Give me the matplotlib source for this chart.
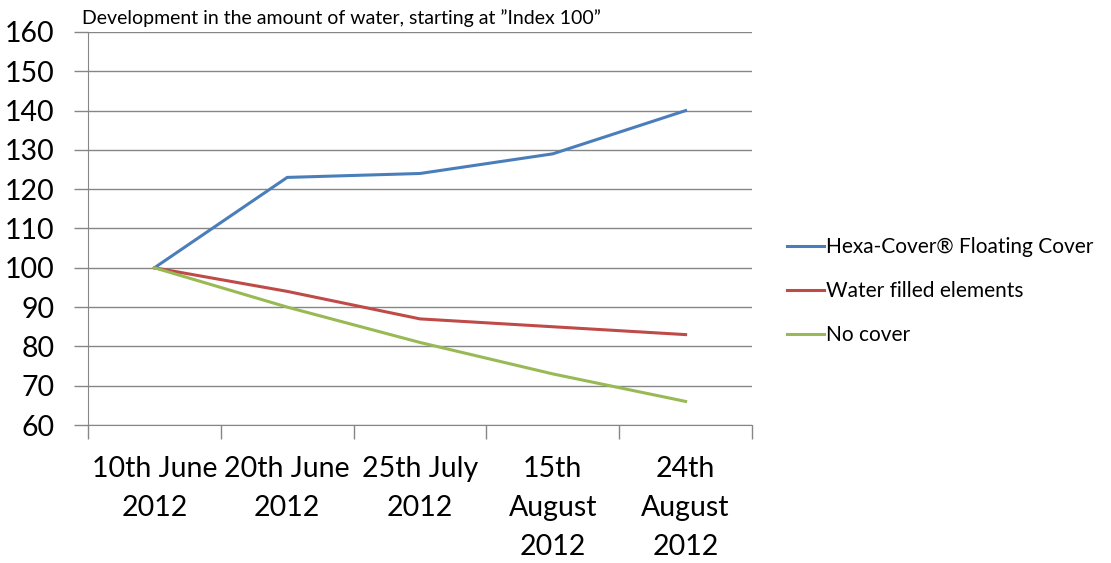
import matplotlib.pyplot as plt
import numpy as np

dates = ["10th June\n2012", "20th June\n2012", "25th July\n2012",
         "15th\nAugust\n2012", "24th\nAugust\n2012"]
hexa_cover = [100, 123, 124, 129, 140]
water_filled = [100, 94, 87, 85, 83]
no_cover = [100, 90, 81, 73, 66]

plt.rcParams['font.family'] = ['Lato', 'DejaVu Sans']

fig = plt.figure(figsize=(11.11, 5.63), dpi=100)
ax = fig.add_axes([88 / 1111, 1 - 425 / 563, 664 / 1111, 393 / 563])

x = np.arange(len(dates))
ax.plot(x, hexa_cover, color='#4A7EBB', lw=2.2, label='Hexa-Cover® Floating Cover')
ax.plot(x, water_filled, color='#BE4B48', lw=2.2, label='Water filled elements')
ax.plot(x, no_cover, color='#98B954', lw=2.2, label='No cover')

ax.set_xlim(-0.5, 4.5)
ax.set_ylim(60, 160)
ax.set_yticks(range(60, 161, 10))
ax.yaxis.grid(True, color='#868686', lw=1)
ax.set_axisbelow(True)

ax.set_xticks(x)
ax.set_xticklabels(dates, fontsize=20.5, linespacing=1.62, va='top')
ax.set_xticks(np.arange(-0.5, 5, 1), minor=True)
ax.tick_params(axis='x', which='major', length=0, pad=22)
ax.tick_params(axis='x', which='minor', length=10, color='#868686', width=1)
ax.tick_params(axis='y', length=10, color='#868686', width=1, labelsize=20.5, pad=14)

for side in ['top', 'right']:
    ax.spines[side].set_visible(False)
ax.spines['left'].set_color('#868686')
ax.spines['bottom'].set_color('#868686')

fig.text(82 / 1111, 1 - 18 / 563, 'Development in the amount of water, starting at \u201dIndex 100\u201d',
         fontsize=14, va='center', ha='left')

ax.legend(loc='center left', bbox_to_anchor=(768 / 1111, 1 - 291 / 563),
          bbox_transform=fig.transFigure, frameon=False, fontsize=15,
          handlelength=1.8, handletextpad=0.1, labelspacing=1.15)

fig.savefig('out.png', dpi=100)
